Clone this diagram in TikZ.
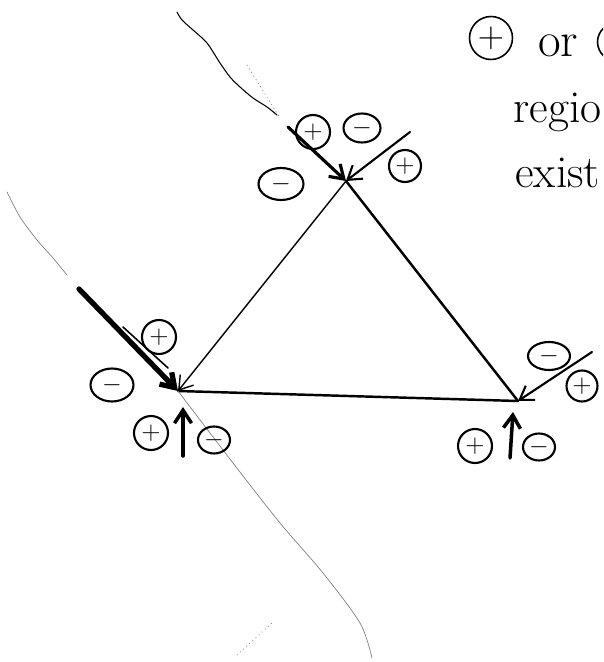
\documentclass[tikz,border=0pt]{standalone}
\usetikzlibrary{arrows.meta,shapes.geometric}

\tikzset{
  possign/.style={circle, draw, line width=1.2pt, inner sep=0pt, minimum size=0.68cm, font=\Large},
  negsign/.style={ellipse, draw, line width=1.2pt, inner sep=0pt, minimum width=0.8cm, minimum height=0.6cm, font=\Large},
  pencil/.style={line width=0.9pt, line cap=round},
  faint/.style={gray, line width=0.4pt, line cap=round},
  barb/.style={-{Straight Barb[length=2.6mm,width=3.4mm]}, line cap=round},
  hand/.style={font=\fontsize{26}{30}\selectfont, inner sep=0pt},
}

\begin{document}
\begin{tikzpicture}[x=0.02cm, y=-0.02cm]
    \clip (0,0) rectangle (603,662);

    % corners of the triangle
    \coordinate (T) at (346,181);
    \coordinate (L) at (178,391);
    \coordinate (R) at (518,401);

    % triangle
    \draw[pencil, barb, line width=0.8pt] (T) -- (L);
    \draw[pencil, line width=1.4pt] (L) -- (R);
    \draw[pencil, line width=1.4pt] (T) -- (R);

    % free ends of the arrows
    \coordinate (inTL) at (288,127);
    \coordinate (inTR) at (410,132);
    \coordinate (inL) at (79,289);
    \coordinate (inLb) at (123,327);
    \coordinate (endLb) at (168,368);
    \coordinate (inR) at (592,352);
    \coordinate (footL) at (183,456);
    \coordinate (tipL) at (183,407);
    \coordinate (footR) at (510,458);
    \coordinate (tipR) at (513,412);

    % arrows into the corners
    \draw[barb, line width=1.8pt] (inTL) -- (T);
    \draw[barb, line width=1.2pt] (inTR) -- (T);
    \draw[barb, line width=3pt] (inL) -- (L);
    \draw[pencil] (inLb) -- (endLb);
    \draw[barb, line width=1.2pt] (inR) -- (R);
    \draw[barb, line width=2pt] (footL) -- (tipL);
    \draw[barb, line width=2pt] (footR) -- (tipR);

    % thin pencil traces
    \draw[pencil, line width=0.6pt] plot[smooth] coordinates {(177,12) (182,20) (193,30) (207,43) (220,63) (230,77) (240,87) (253,98) (267,107) (277,115)};
    \draw[faint, dotted] (247,65) -- (280,118);
    \draw[faint] plot[smooth] coordinates {(7,192) (20,217) (37,240) (53,258) (67,275)};
    \draw[faint] plot[smooth] coordinates {(178,391) (233,463) (280,523) (323,573) (360,623) (372,658)};
    \draw[faint, dotted] (237,655) -- (272,623);

    % signs at the top corner
    \node[possign] (tP1) at (313,132) {$+$};
    \node[negsign, minimum width=0.74cm, minimum height=0.58cm] (tN1) at (362,128) {$-$};
    \node[negsign, minimum width=0.9cm, minimum height=0.64cm] (tN2) at (281,184) {$-$};
    \node[possign, minimum size=0.64cm] (tP2) at (405,166) {$+$};

    % signs at the left corner
    \node[possign] (lP1) at (159,337) {$+$};
    \node[negsign, minimum width=0.86cm, minimum height=0.66cm] (lN1) at (112,385) {$-$};
    \node[possign] (lP2) at (151,433) {$+$};
    \node[negsign, minimum width=0.64cm, minimum height=0.54cm] (lN2) at (214,440) {$-$};

    % signs at the right corner
    \node[negsign, minimum width=0.84cm, minimum height=0.56cm] (rN1) at (549,356) {$-$};
    \node[possign, minimum size=0.62cm] (rP1) at (582,386) {$+$};
    \node[possign] (rP2) at (475,446) {$+$};
    \node[negsign, minimum width=0.64cm, minimum height=0.54cm] (rN2) at (539,447) {$-$};

    % note, cut off at the right
    \node[possign, minimum size=0.86cm, line width=0.9pt, font=\huge] (keyP) at (491,38) {$+$};
    \node[hand, font=\fontsize{28}{32}\selectfont, anchor=base west] (keyOr) at (538,57) {or};
    \draw[line width=0.9pt] (619,42) ellipse (0.43cm and 0.4cm);
    \node[hand, anchor=base west] (txtA) at (513,123) {regio};
    \node[hand, anchor=base west] (txtB) at (515,188) {exist};
\end{tikzpicture}
\end{document}
